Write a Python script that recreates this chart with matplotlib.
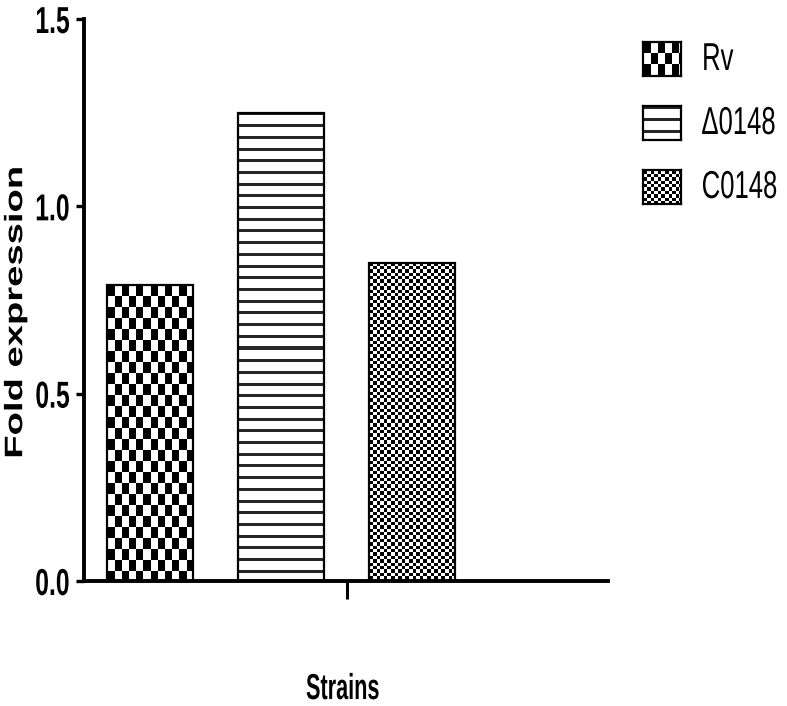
"""Fold expression bar chart with patterned fills (Rv / Δ0148 / C0148)."""
import matplotlib
matplotlib.use("Agg")
import matplotlib.pyplot as plt
import numpy as np
from matplotlib.patheffects import AbstractPathEffect
from matplotlib.transforms import Affine2D

strains = ["Rv", "\u03940148", "C0148"]
fold_expression = [0.79, 1.25, 0.85]
patterns = ["checker", "stripes", "fine"]
y_ticks = [0.0, 0.5, 1.0, 1.5]

FONT = "Liberation Sans"


class Squash(AbstractPathEffect):
    """Draw text condensed (the reference uses a narrow face)."""

    def __init__(self, sx=1.0, sy=1.0, fx=0.5, fy=0.5):
        super().__init__()
        self.sx, self.sy, self.fx, self.fy = sx, sy, fx, fy

    def draw_path(self, renderer, gc, tpath, affine, rgbFace=None):
        ext = tpath.get_extents()
        cx = ext.x0 + self.fx * ext.width
        cy = ext.y0 + self.fy * ext.height
        t = Affine2D().translate(-cx, -cy).scale(self.sx, self.sy).translate(cx, cy)
        renderer.draw_path(gc, tpath, t + affine, rgbFace)


def texture(kind, w, h):
    """Pixel-level fill texture: 0 = black, 1 = white."""
    yy, xx = np.mgrid[0:h, 0:w].astype(float)
    if kind == "checker":
        v = (np.floor(xx / 7.2) + np.floor(yy / 11.0)) % 2
    elif kind == "stripes":
        v = np.where((yy % 11.7) < 3.0, 0.15, 1.0)
    else:
        v = (np.floor(xx / 3.6) + np.floor(yy / 3.4)) % 2
    return v


fig = plt.figure(figsize=(7.87, 7.06), dpi=100)
ax = fig.add_axes([84 / 787, 1 - 581 / 706, 524 / 787, 562 / 706])
ax.set_xlim(-0.504, 3.496)
ax.set_ylim(0, 1.5)

x = np.arange(len(strains))
bars = ax.bar(x, fold_expression, width=0.656, facecolor="none",
              edgecolor="black", linewidth=1.6, zorder=3)

# fill each bar with its texture, clipped to the bar
for patch, kind in zip(bars, patterns):
    x0, y0 = patch.get_x(), patch.get_y()
    x1, y1 = x0 + patch.get_width(), y0 + patch.get_height()
    (px0, py0), (px1, py1) = ax.transData.transform([(x0, y0), (x1, y1)])
    w, h = int(round(px1 - px0)), int(round(py1 - py0))
    im = ax.imshow(texture(kind, w, h), cmap="gray", vmin=0, vmax=1,
                   extent=[x0, x1, y0, y1], aspect="auto",
                   interpolation="nearest", zorder=2)
    im.set_clip_path(patch)

ax.set_xlim(-0.504, 3.496)
ax.set_ylim(0, 1.5)

for side in ("top", "right"):
    ax.spines[side].set_visible(False)
for side in ("left", "bottom"):
    ax.spines[side].set_linewidth(2.8)

ax.set_yticks(y_ticks)
ax.set_yticklabels([f"{t:.1f}" for t in y_ticks], fontfamily=FONT,
                   fontweight="bold", fontsize=27,
                   path_effects=[Squash(sx=0.66, fx=1.0)])
ax.tick_params(axis="y", direction="out", length=6, width=2.4, pad=4)
ax.set_xticks([1.5])
ax.set_xticklabels([""])
ax.tick_params(axis="x", direction="out", length=13, width=2.2)

fig.text(15.5 / 787, 1 - 312 / 706, "Fold expression", rotation=90,
         ha="center", va="center", fontfamily=FONT, fontweight="bold",
         fontsize=27.5, path_effects=[Squash(sy=0.66, fy=0.5)])
ax.set_xlabel("Strains", fontfamily=FONT, fontweight="bold", fontsize=26,
              path_effects=[Squash(sx=0.6, fx=0.5)])
ax.xaxis.set_label_coords(0.494, -0.162)

# ----- legend drawn by hand so the swatches carry the same textures -----
box_tops = [42, 106, 170]
for label, kind, top in zip(strains, patterns, box_tops):
    bh = 34
    lax = fig.add_axes([643 / 787, 1 - (top + bh) / 706, 38 / 787, bh / 706])
    lax.imshow(texture(kind, 38, bh), cmap="gray", vmin=0, vmax=1,
               extent=[0, 1, 0, 1], aspect="auto", interpolation="nearest")
    lax.set_xticks([]); lax.set_yticks([])
    for s in lax.spines.values():
        s.set_linewidth(1.6)
    fig.text(701 / 787, 1 - (top + bh / 2 + 1) / 706, label,
             fontfamily=FONT, fontsize=28, va="center", ha="left",
             path_effects=[Squash(sx=0.66, fx=0.0)])

fig.savefig("out.png", dpi=100)
